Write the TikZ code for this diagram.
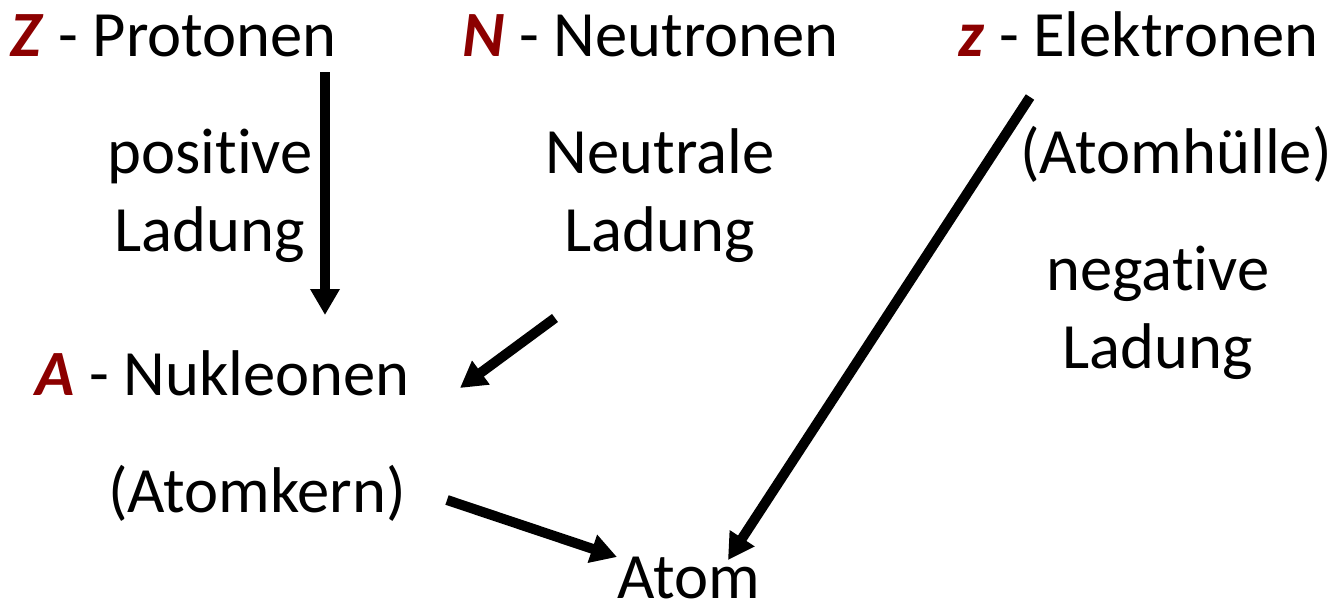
\documentclass[tikz,border=0pt]{standalone}
\usepackage{fontspec}
\setmainfont[Ligatures=NoCommon]{Carlito}
\usetikzlibrary{arrows.meta}
\definecolor{SymClr}{rgb}{0.55,0,0}
\newcommand{\Sym}[1]{\textcolor{SymClr}{\textbf{\textit{#1}}}}

\begin{document}
\begin{tikzpicture}[x=0.5pt,y=-0.5pt,
  txt/.style={font=\fontsize{32.3}{39}\selectfont,inner sep=0pt,align=center},
  arr/.style={line width=5pt,-{Triangle[width=14pt,length=13pt]}}]
\useasboundingbox (0,0) rectangle (1341,606);

\node[txt,anchor=base west] (Z) at (10,56) {\Sym{Z} - Protonen};
\node[txt,anchor=base west] (N) at (462,56) {\Sym{N} - Neutronen};
\node[txt,anchor=base west] (e) at (958,56) {\Sym{z} - Elektronen};

\node[txt,anchor=base] (pos) at (210,251) {positive\\Ladung};
\node[txt,anchor=base] (neu) at (660,251) {Neutrale\\Ladung};
\node[txt,anchor=base west] (hul) at (1020,173) {(Atomhülle)};
\node[txt,anchor=base] (neg) at (1158,368) {negative\\Ladung};

\node[txt,anchor=base west] (A) at (35,395) {\Sym{A} - Nukleonen};
\node[txt,anchor=base west] (kern) at (108,512) {(Atomkern)};
\node[txt,anchor=base west] (atom) at (617,598) {Atom};

\coordinate (Zs) at (325,72);   \coordinate (Zt) at (325,315);
\coordinate (Ns) at (555,318);  \coordinate (Nt) at (460,388);
\coordinate (es) at (1030,97);  \coordinate (et) at (728,560);
\coordinate (ks) at (447,500);  \coordinate (kt) at (617,557);

\draw[arr] (Zs) -- (Zt);
\draw[arr] (Ns) -- (Nt);
\draw[arr] (es) -- (et);
\draw[arr] (ks) -- (kt);

\end{tikzpicture}
\end{document}
